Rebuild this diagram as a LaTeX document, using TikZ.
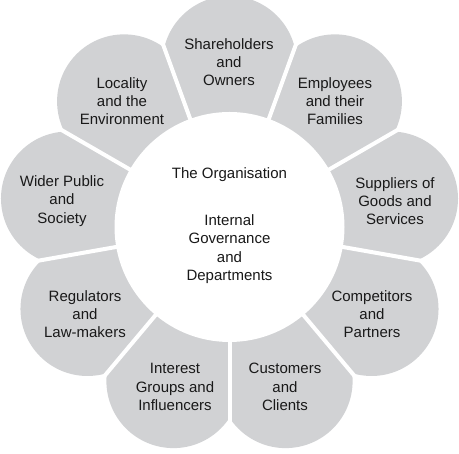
\documentclass[tikz,border=0pt]{standalone}
\usepackage{fontspec}
\setmainfont{Liberation Sans}
\definecolor{petal}{RGB}{209,210,212}
\definecolor{ink}{RGB}{25,25,25}
\begin{document}
\begin{tikzpicture}[x=1pt,y=1pt,
  lbl/.style={align=center,text=ink,inner sep=0pt,font=\fontsize{15}{18.3}\selectfont},
  gapline/.style={white,line width=4pt}]
\useasboundingbox (0,0) rectangle (459,454);
\clip (0,0) rectangle (459,454);
\coordinate (c) at (229.5,227);
% petals
\fill[petal] (c) circle[radius=155];
\foreach \a in {90,130,...,410}
  \fill[petal] ([shift={(\a:164)}]c) circle[radius=67];
\foreach \a in {70,110,...,390}
  \draw[gapline] (c) -- ++(\a:240);
% centre
\fill[white] (c) circle[radius=115];
% labels
\node[lbl] (sh) at (229,392) {Shareholders\\and\\Owners};
\node[lbl] (em) at (335,353) {Employees\\and their\\Families};
\node[lbl] (su) at (395,253) {Suppliers of\\Goods and\\Services};
\node[lbl] (co) at (372,140) {Competitors\\and\\Partners};
\node[lbl] (cu) at (285,67) {Customers\\and\\Clients};
\node[lbl] (in) at (175,67) {Interest\\Groups and\\Influencers};
\node[lbl] (re) at (85,140) {Regulators\\and\\Law-makers};
\node[lbl] (wi) at (62,253) {Wider Public\\and\\Society};
\node[lbl] (lo) at (122,353) {Locality\\and the\\Environment};
\node[lbl] (org) at (229.5,279) {The Organisation};
\node[lbl] (int) at (229.5,205) {Internal\\Governance\\and\\Departments};
\end{tikzpicture}
\end{document}
